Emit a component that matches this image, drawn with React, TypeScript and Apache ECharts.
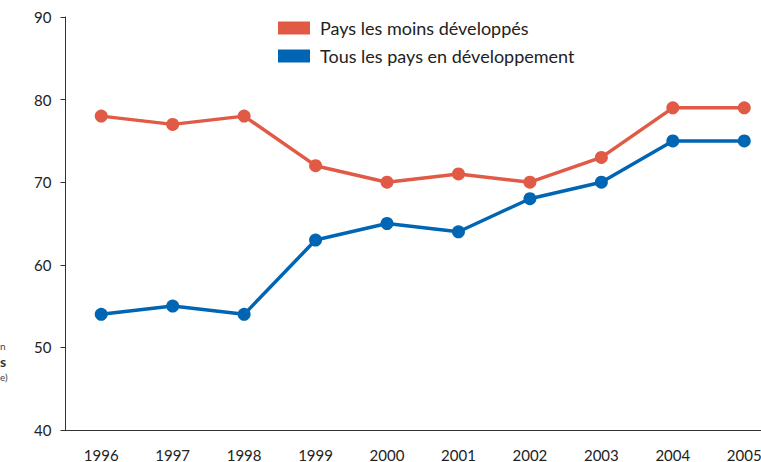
import React, { useEffect, useRef } from "react";
import * as echarts from "echarts";

const years = ["1996", "1997", "1998", "1999", "2000", "2001", "2002", "2003", "2004", "2005"];
const leastDeveloped = [78, 77, 78, 72, 70, 71, 70, 73, 79, 79];
const allDeveloping = [54, 55, 54, 63, 65, 64, 68, 70, 75, 75];
const seriesNames = ["Pays les moins développés", "Tous les pays en développement"];

const RED = "#E05A45";
const BLUE = "#0066B3";
const FONT = "Lato";

export default function App() {
  const ref = useRef<HTMLDivElement>(null);
  useEffect(() => {
    if (!ref.current) return;
    const chart = echarts.init(ref.current, null, { renderer: "svg" });
    chart.setOption({
      animation: false,
      textStyle: { fontFamily: FONT },
      grid: { left: 65.5, top: 17, height: 413, width: 714.5, containLabel: false, outerBoundsMode: "none" },
      legend: {
        orient: "vertical",
        left: 273,
        top: 14,
        itemWidth: 32,
        itemHeight: 13,
        itemGap: 10,
        icon: "rect",
        textStyle: { fontSize: 18, color: "#222", fontFamily: FONT, padding: [0, 0, 0, 5] },
        data: seriesNames,
      },
      xAxis: {
        type: "category",
        data: years,
        boundaryGap: true,
        axisLine: { lineStyle: { color: "#333", width: 1 } },
        axisTick: { alignWithLabel: true, length: 4, lineStyle: { color: "#333" } },
        axisLabel: { fontSize: 15, color: "#222", margin: 17, fontFamily: FONT },
        splitLine: { show: false },
      },
      yAxis: {
        type: "value",
        min: 40,
        max: 90,
        interval: 10,
        axisLine: { show: true, lineStyle: { color: "#333", width: 1 } },
        axisTick: { show: true, length: 5, lineStyle: { color: "#333" } },
        axisLabel: { fontSize: 15, color: "#222", margin: 14, fontFamily: FONT },
        splitLine: { show: false },
      },
      graphic: [
        { type: "text", left: 0, top: 341, style: { text: "n", fontSize: 10, fill: "#444", fontFamily: FONT } },
        { type: "text", left: 0, top: 354, style: { text: "s", fontSize: 14, fontWeight: "bold", fill: "#333", fontFamily: FONT } },
        { type: "text", left: 0, top: 372, style: { text: "e)", fontSize: 10, fill: "#444", fontFamily: FONT } },
      ],
      series: [
        {
          name: seriesNames[0],
          type: "line",
          data: leastDeveloped,
          symbol: "circle",
          symbolSize: 13,
          itemStyle: { color: RED },
          lineStyle: { color: RED, width: 3.5 },
        },
        {
          name: seriesNames[1],
          type: "line",
          data: allDeveloping,
          symbol: "circle",
          symbolSize: 13,
          itemStyle: { color: BLUE },
          lineStyle: { color: BLUE, width: 3.5 },
        },
      ],
    });
    return () => chart.dispose();
  }, []);
  return <div ref={ref} style={{ width: 761, height: 462, position: "absolute", left: 0, top: 0 }} />;
}
